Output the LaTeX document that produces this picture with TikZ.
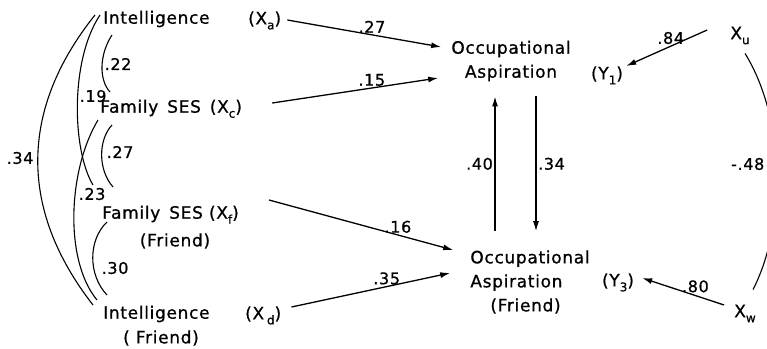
\documentclass[tikz,border=0pt]{standalone}
\usepackage{fontspec}
\setmainfont{DejaVu Sans}[LetterSpace=4,FakeBold=0.8]
\usepackage{tikz}
\usetikzlibrary{arrows.meta,positioning,calc}
\newcommand{\lsub}[1]{\raisebox{-5pt}[0pt][0pt]{\fontsize{12}{12}\selectfont #1}}

\begin{document}
\begin{tikzpicture}[x=1pt,y=-1pt,
  var/.style={inner sep=0pt,font=\fontsize{17}{24}\selectfont},
  coef/.style={inner sep=1.5pt,font=\fontsize{16}{16}\selectfont},
  path/.style={-{Latex[length=10pt,width=6pt]},line width=1.3pt},
  corr/.style={line width=1.1pt}]
  \useasboundingbox (0,0) rectangle (767,348);
  \clip (0,0) rectangle (767,348);
  % exogenous variables
  \node[var,anchor=west] (ia) at (103,19) {Intelligence};
  \node[var,anchor=west] (xa) at (248,19) {(X\lsub{a})};
  \node[var,anchor=west] (xc) at (100,108) {Family\, SES\, (X\lsub{c})};
  \node[var,anchor=west] (xf) at (102,214) {Family\, SES (X\lsub{f})};
  \node[var] (xff) at (175,241) {(Friend)};
  \node[var,anchor=west] (id) at (103,314) {Intelligence};
  \node[var,anchor=west] (xd) at (245,314) {(X\,\lsub{d})};
  \node[var] (fd) at (161,338) {( Friend)};
  % endogenous variables
  \node[var,align=center] (ya) at (511,61) {Occupational\\Aspiration};
  \node[var] (y1) at (607,74) {(Y\lsub{1})};
  \node[var,align=left] (yf) at (530,282) {Occupational\\Aspiration\\\hspace*{20pt}(Friend)};
  \node[var] (y3) at (618,281) {(Y\lsub{3})};
  % residuals
  \node[var] (xu) at (740,33) {X\lsub{u}};
  \node[var] (xw) at (745,311) {X\lsub{w}};
  \node[coef,anchor=east] (rho) at (766,164) {-.48};

  % paths
  \draw[path] ([shift={(6,1)}]xa.east) -- ([shift={(-10,-14)}]ya.west)
    node[coef,pos=.55,above] (p27) {.27};
  \draw[path] ([shift={(30,-5)}]xc.east) -- ([shift={(-13,17)}]ya.west)
    node[coef,pos=.6,above] (p15) {.15};
  \draw[path] ([shift={(30,-14)}]xf.east) -- ([shift={(-17,-32)}]yf.west)
    node[coef,pos=.7,above] (p16) {.16};
  \draw[path] ([shift={(10,-7)}]xd.east) -- ([shift={(-20,-9)}]yf.west)
    node[coef,pos=.6,above] (p35) {.35};
  \draw[path] ([xshift=-16pt,yshift=19pt]ya.south |- yf.north) -- ([xshift=-16pt,yshift=-15pt]ya.south)
    node[coef,pos=.5,left] (p40) {.40};
  \draw[path] ([xshift=25pt,yshift=-15pt]ya.south) -- ([xshift=25pt,yshift=19pt]ya.south |- yf.north)
    node[coef,pos=.5,right] (p34) {.34};
  \draw[path] ([shift={(-23,-3)}]xu.west) -- ([shift={(3,-8)}]y1.east)
    node[coef,pos=.45,above] (p84) {.84};
  \draw[path] ([shift={(-10,-6)}]xw.west) -- ([shift={(8,-3)}]y3.east)
    node[coef,pos=.35,above=1pt] (p80) {.80};

  % correlations
  \draw[corr] ([shift={(-8,-4)}]ia.west) .. controls (19,110) and (19,210) .. ([shift={(-10,-9)}]id.west);
  \draw[corr] ([shift={(-3,-4)}]ia.west) .. controls (70,60) and (72,150) .. ([shift={(-9,-29)}]xf.west);
  \draw[corr] ([shift={(9,16)}]ia.west) .. controls (99,55) and (99,80) .. ([shift={(10,-16)}]xc.west);
  \draw[corr] ([shift={(-2,12)}]xc.west) .. controls (68,170) and (64,260) .. ([shift={(-6,-14)}]id.west);
  \draw[corr] ([shift={(12,17)}]xc.west) .. controls (98,140) and (98,170) .. ([shift={(11,-27)}]xf.west);
  \draw[corr] ([shift={(5,8)}]xf.west) .. controls (88,240) and (88,275) .. ([shift={(4,-19)}]id.west);
  \draw[corr] ([shift={(5,14)}]xu.south) .. controls (786,120) and (786,225) .. ([shift={(8,-15)}]xw.north);
  \foreach \x/\y/\t/\n in {5/158/.34/c34, 78/96/.19/c19, 103/64/.22/c22,
      105/152/.27/c27, 77/194/.23/c23, 100/268/.30/c30}
    \node[coef,anchor=west] (\n) at (\x,\y) {\t};
\end{tikzpicture}
\end{document}
